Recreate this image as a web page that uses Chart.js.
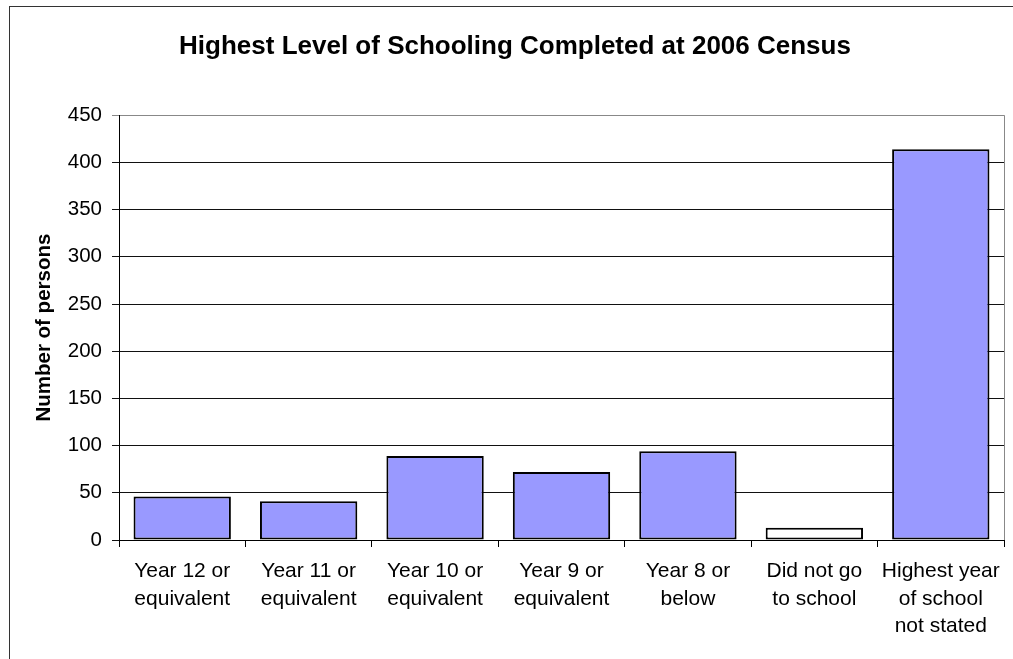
<!DOCTYPE html>
<html>
<head>
<meta charset="utf-8">
<title>Highest Level of Schooling Completed at 2006 Census</title>
<script src="https://cdn.jsdelivr.net/npm/chart.js@4/dist/chart.umd.min.js"></script>
<style>
  html, body { margin: 0; padding: 0; background: #fff; }
  canvas { display: block; }
</style>
</head>
<body>
<canvas id="chartSchooling" width="1013" height="659"></canvas>
<script>
// Categories (multi-line tick labels) and counts
const categories = [
  ["Year 12 or", "equivalent"],
  ["Year 11 or", "equivalent"],
  ["Year 10 or", "equivalent"],
  ["Year 9 or", "equivalent"],
  ["Year 8 or", "below"],
  ["Did not go", "to school"],
  ["Highest year", "of school", "not stated"],
];
const persons = [46, 41, 89, 72, 94, 13, 414];
const yTicks = [0, 50, 100, 150, 200, 250, 300, 350, 400, 450];

// fill per bar: the "did not go" bar is left white
const barColors = ["#9999ff", "#9999ff", "#9999ff", "#9999ff", "#9999ff", "#ffffff", "#9999ff"];

const FONT = "'Liberation Sans', Arial, sans-serif";
Chart.defaults.color = "#000";
Chart.defaults.font.family = FONT;

// outer frame + right edge of the plot area
const framePlugin = {
  id: "frame",
  beforeDraw(chart) {
    const ctx = chart.ctx;
    ctx.save();
    ctx.fillStyle = "#fff";
    ctx.fillRect(0, 0, chart.width, chart.height);
    ctx.strokeStyle = "#333";
    ctx.lineWidth = 1;
    ctx.strokeRect(9.5, 6.5, chart.width + 20, chart.height + 20);
    ctx.restore();
  },
  afterDraw(chart) {
    const { ctx, chartArea: a } = chart;
    ctx.save();
    ctx.strokeStyle = "#888";
    ctx.lineWidth = 1;
    ctx.beginPath();
    ctx.moveTo(Math.round(a.right) + 0.5, a.top);
    ctx.lineTo(Math.round(a.right) + 0.5, a.bottom);
    ctx.stroke();
    ctx.restore();
  },
};

new Chart(document.getElementById("chartSchooling").getContext("2d"), {
  type: "bar",
  data: {
    labels: categories,
    datasets: [{
      label: "Number of persons",
      data: persons,
      backgroundColor: barColors,
      borderColor: "#000",
      borderWidth: 2,
      borderSkipped: false,
      categoryPercentage: 1,
      barPercentage: 0.77,
    }],
  },
  options: {
    responsive: false,
    animation: false,
    layout: { padding: { left: 26, right: 9, top: 0, bottom: 0 } },
    plugins: {
      legend: { display: false },
      tooltip: { enabled: false },
      title: {
        display: true,
        text: "Highest Level of Schooling Completed at 2006 Census",
        font: { size: 26, weight: "bold", family: FONT },
        padding: { top: 31, bottom: 53 },
        color: "#000",
      },
    },
    scales: {
      x: {
        offset: true,
        grid: {
          offset: true,
          drawOnChartArea: false,
          drawTicks: true,
          tickLength: 7,
          color: "#000",
        },
        border: { display: true, color: "#000", width: 1 },
        ticks: {
          font: { size: 21, lineHeight: 1.3 },
          padding: 11,
          maxRotation: 0,
          autoSkip: false,
        },
        afterFit(scale) { scale.height = 119; },
      },
      y: {
        min: 0,
        max: 450,
        afterBuildTicks(scale) { scale.ticks = yTicks.map(v => ({ value: v })); },
        grid: {
          color: ctx => (ctx.tick && ctx.tick.value === 450 ? "#888" : "#111"),
          tickLength: 7,
          drawTicks: true,
        },
        border: { display: true, color: "#000", width: 1 },
        ticks: {
          font: { size: 20.5 },
          padding: 10,
        },
        title: {
          display: true,
          text: "Number of persons",
          font: { size: 20.5, weight: "bold" },
          padding: { top: 6, bottom: 0 },
        },
        afterFit(scale) { scale.width = 93; },
      },
    },
  },
  plugins: [framePlugin],
});
</script>
</body>
</html>
